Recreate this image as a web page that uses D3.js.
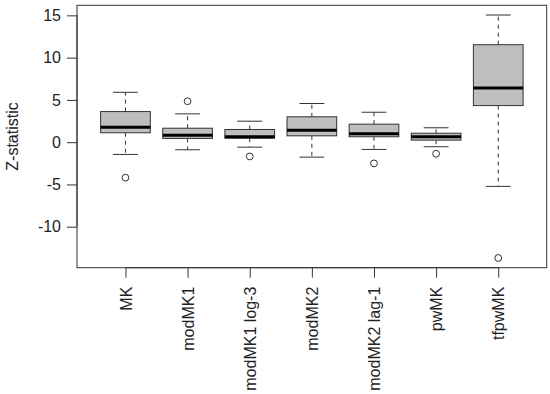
<!DOCTYPE html>
<html><head><meta charset="utf-8">
<script src="https://cdn.jsdelivr.net/npm/d3@7"></script>
<style>body{margin:0;background:#fff}</style></head>
<body><svg id="c" width="550" height="394"></svg>
<script>
const categories = ["MK","modMK1","modMK1 log-3","modMK2","modMK2 lag-1","pwMK","tfpwMK"];
const whiskerLow = [-1.45,-0.9,-0.59,-1.77,-0.86,-0.54,-5.23];
const q1 = [1.11,0.44,0.47,0.75,0.64,0.24,4.33];
const median = [1.77,0.83,0.64,1.42,0.99,0.64,6.42];
const q3 = [3.62,1.65,1.5,3.0,2.13,1.06,11.53];
const whiskerHigh = [5.9,3.35,2.48,4.57,3.54,1.7,15.04];
const outliers = [[-4.2],[4.84],[-1.69],[],[-2.51],[-1.37],[-13.7]];
const yTicks = [-10,-5,0,5,10,15];

const svg = d3.select("#c");
const L=77, R=546.7, T=5.3, B=267.7;
const col="#333";
const n=categories.length;
const allVals=[...whiskerLow,...whiskerHigh,...outliers.flat()];
const lo=d3.min(allVals), hi=d3.max(allVals), pad=(hi-lo)*0.04;
const y=d3.scaleLinear().domain([lo-pad,hi+pad]).range([B,T]);
const xpad=n*0.04;
const x=d3.scaleLinear().domain([0.5-xpad,n+0.5+xpad]).range([L,R]);
const unit=x(2)-x(1);
const bw=unit*0.4, cw=unit*0.2;

const font="Liberation Sans, Arial, sans-serif";
const fs=16;
// y axis
const ya=svg.append("g").attr("transform",`translate(${L},0)`)
  .call(d3.axisLeft(y).tickValues(yTicks).tickSize(10).tickPadding(6).tickFormat(d=>String(d)));
ya.select(".domain").attr("d",`M0,${y(15)}V${y(-10)}`).attr("stroke",col);
ya.selectAll(".tick line").attr("stroke",col);
ya.selectAll("text").attr("font-family",font).attr("font-size",fs).attr("fill","#222");

// x axis
const xa=svg.append("g").attr("transform",`translate(0,${B})`)
  .call(d3.axisBottom(x).tickValues(d3.range(1,n+1)).tickSize(10).tickFormat((d,i)=>categories[i]));
xa.select(".domain").attr("d",`M${x(1)},0H${x(n)}`).attr("stroke",col);
xa.selectAll(".tick line").attr("stroke",col);
xa.selectAll("text").attr("font-family",font).attr("font-size",fs).attr("fill","#222")
  .attr("transform","rotate(-90)").attr("text-anchor","end").attr("x",-19).attr("y",0).attr("dy","0.35em");

// plot box
svg.append("rect").attr("x",L).attr("y",T).attr("width",R-L).attr("height",B-T)
  .attr("fill","none").attr("stroke",col).attr("stroke-width",1);

// y label
svg.append("text").attr("transform",`translate(18,${(T+B)/2}) rotate(-90)`)
  .attr("text-anchor","middle").attr("font-family",font).attr("font-size",fs).attr("fill","#222").text("Z-statistic");

const g=svg.append("g");
categories.forEach((c,i)=>{
  const cx=x(i+1);
  g.append("line").attr("x1",cx).attr("x2",cx).attr("y1",y(q3[i])).attr("y2",y(whiskerHigh[i]))
    .attr("stroke",col).attr("stroke-dasharray","4,4");
  g.append("line").attr("x1",cx).attr("x2",cx).attr("y1",y(q1[i])).attr("y2",y(whiskerLow[i]))
    .attr("stroke",col).attr("stroke-dasharray","4,4");
  [whiskerHigh[i],whiskerLow[i]].forEach(v=>{
    g.append("line").attr("x1",cx-cw).attr("x2",cx+cw).attr("y1",y(v)).attr("y2",y(v)).attr("stroke",col);
  });
  g.append("rect").attr("x",cx-bw).attr("width",bw*2)
    .attr("y",y(q3[i])).attr("height",y(q1[i])-y(q3[i]))
    .attr("fill","#bebebe").attr("stroke",col);
  g.append("line").attr("x1",cx-bw).attr("x2",cx+bw).attr("y1",y(median[i])).attr("y2",y(median[i]))
    .attr("stroke","#000").attr("stroke-width",3);
  outliers[i].forEach(v=>{
    g.append("circle").attr("cx",cx).attr("cy",y(v)).attr("r",3.4).attr("fill","none").attr("stroke",col);
  });
});
</script></body></html>
